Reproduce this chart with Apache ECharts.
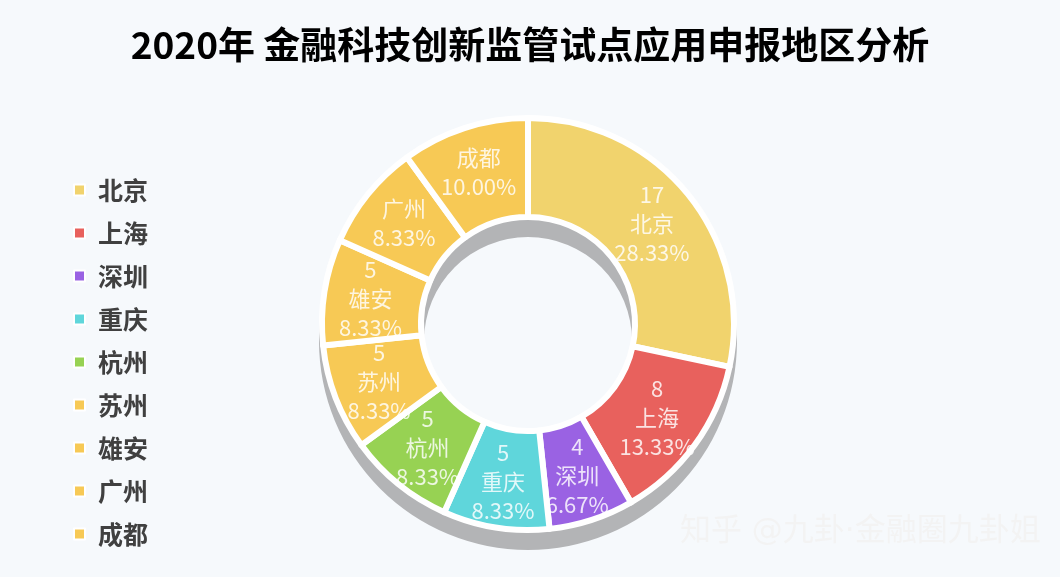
<!DOCTYPE html>
<html>
<head>
<meta charset="utf-8">
<script src="https://cdn.jsdelivr.net/npm/echarts@6/dist/echarts.min.js"></script>
<style>
html,body{margin:0;padding:0;background:#f6f9fc;}
#chart{width:1060px;height:577px;}
</style>
</head>
<body>
<div id="chart"></div>
<script>
var titleText = '2020年 金融科技创新监管试点应用申报地区分析';
var categories = ['北京','上海','深圳','重庆','杭州','苏州','雄安','广州','成都'];
var values = [17, 8, 4, 5, 5, 5, 5, 5, 6];
var colors = ['#f1d36d','#e8615d','#9a62e3','#5fd6db','#97d253','#f7c955','#f7c955','#f7c955','#f7c955'];
var hideValueLabel = ['广州','成都'];
var watermark = '知乎 @九卦·金融圈九卦姐';

var total = values.reduce(function(a,b){return a+b;},0);
var data = categories.map(function(n,i){
  return {name:n, value:values[i], itemStyle:{color:colors[i]}};
});

var chart = echarts.init(document.getElementById('chart'));
chart.setOption({
  backgroundColor:'#f6f9fc',
  animation:false,
  title:{
    text:titleText, left:'center', top:21,
    textStyle:{fontFamily:'Noto Sans CJK SC', fontSize:37, fontWeight:'bold', color:'#000'}
  },
  legend:{
    orient:'vertical', left:68, top:172,
    icon:'rect', itemWidth:11, itemHeight:11, itemGap:17,
    data:categories,
    textStyle:{fontFamily:'Noto Sans CJK SC', fontSize:25, fontWeight:'bold', color:'#404040', lineHeight:26, padding:[0,0,0,8]}
  },
  graphic:[{
    type:'text', left:680, top:516,
    style:{text:watermark, font:'31px "DejaVu Sans", "Noto Sans CJK SC"', fill:'#f3f3f3',
      shadowColor:'rgba(0,0,0,0.45)', shadowOffsetX:1, shadowOffsetY:1, shadowBlur:1}
  }],
  series:[
    {
      type:'pie', silent:true, center:[528,341], radius:[104,209],
      label:{show:false}, labelLine:{show:false},
      itemStyle:{color:'#b3b4b6'},
      data:[{name:'shadow', value:1}],
      legendHoverLink:false
    },
    {
      type:'pie', center:[528,324], radius:[107,206], startAngle:90,
      avoidLabelOverlap:false,
      labelLayout:{hideOverlap:false},
      itemStyle:{borderColor:'#ffffff', borderWidth:6},
      label:{
        show:true, position:'inside',
        fontFamily:'Noto Sans CJK SC', fontSize:22, lineHeight:29,
        color:'rgba(255,255,255,0.82)',
        formatter:function(p){
          var pct = (p.value/total*100).toFixed(2)+'%';
          if (hideValueLabel.indexOf(p.name) >= 0) return p.name+'\n'+pct;
          return p.value+'\n'+p.name+'\n'+pct;
        }
      },
      labelLine:{show:false},
      data:data
    }
  ]
});
</script>
</body>
</html>
